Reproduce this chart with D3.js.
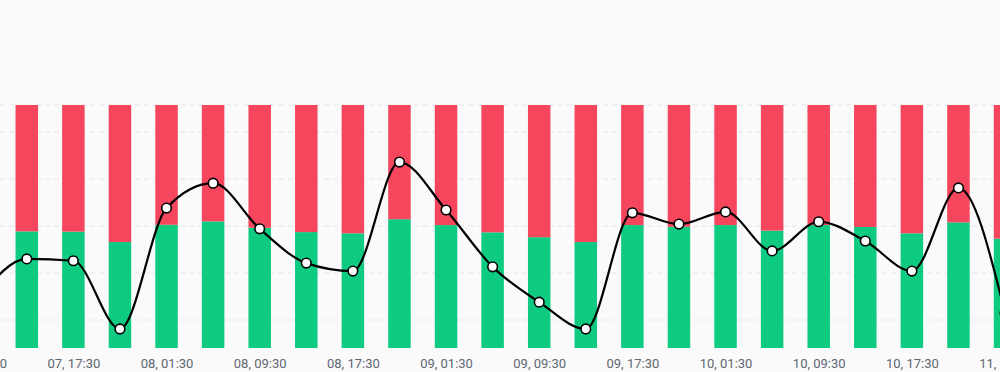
<!DOCTYPE html>
<html>
<head>
<meta charset="utf-8">
<script src="https://cdn.jsdelivr.net/npm/d3@7"></script>
<style>
  html, body { margin: 0; padding: 0; background: #fafafa; }
  svg { display: block; }
</style>
</head>
<body>
<svg id="chart" width="1000" height="372"></svg>
<script>
// every 4 hours, day 07 09:30 -> day 11 01:30
const times = [
  "07 09:30", "07 13:30", "07 17:30", "07 21:30",
  "08 01:30", "08 05:30", "08 09:30", "08 13:30", "08 17:30", "08 21:30",
  "09 01:30", "09 05:30", "09 09:30", "09 13:30", "09 17:30", "09 21:30",
  "10 01:30", "10 05:30", "10 09:30", "10 13:30", "10 17:30", "10 21:30",
  "11 01:30"
];
// long share of accounts (green), short is the rest (red)
const longShare = [
  0.460, 0.480, 0.479, 0.436, 0.507, 0.521, 0.495, 0.477, 0.472, 0.530,
  0.506, 0.476, 0.456, 0.436, 0.506, 0.499, 0.506, 0.483, 0.506, 0.498,
  0.472, 0.517, 0.450
];
// long/short ratio (black line)
const ratio = [
  0.850, 0.930, 0.926, 0.781, 1.038, 1.091, 0.994, 0.921, 0.904, 1.136,
  1.034, 0.913, 0.838, 0.781, 1.028, 1.004, 1.030, 0.947, 1.009, 0.968,
  0.904, 1.081, 0.815
];
const gridTicks = [0.8, 0.9, 1.0, 1.1, 1.2];

const parseT = s => {
  const [d, hm] = s.split(" ");
  const [h, m] = hm.split(":");
  return new Date(2024, 0, +d, +h, +m);
};

const data = times.map((t, i) => ({
  t: parseT(t),
  long: longShare[i],
  short: 1 - longShare[i],
  ratio: ratio[i]
}));

const W = 1000, H = 372;
const plotTop = 105, plotBottom = 348;

const svg = d3.select("#chart");
svg.append("rect").attr("width", W).attr("height", H).attr("fill", "#fafafa");

const x = d3.scaleTime()
  .domain([new Date(2024, 0, 7, 11, 12), new Date(2024, 0, 11, 1, 4)])
  .range([0, W]);

const yBar = d3.scaleLinear().domain([0, 1]).range([plotBottom, plotTop]);
const yLine = d3.scaleLinear().domain([0.7404, 1.2574]).range([plotBottom, plotTop]);

// grid
const grid = svg.append("g");
grid.selectAll("line.g")
  .data(gridTicks)
  .join("line")
  .attr("x1", 0).attr("x2", W)
  .attr("y1", d => yLine(d)).attr("y2", d => yLine(d))
  .attr("stroke", "#e6e6e6")
  .attr("stroke-dasharray", "5,4");
grid.append("line")
  .attr("x1", 0).attr("x2", W)
  .attr("y1", yBar(1)).attr("y2", yBar(1))
  .attr("stroke", "#e6e6e6")
  .attr("stroke-dasharray", "5,4");

// stacked bars
const barW = 22.5;
const stack = d3.stack().keys(["long", "short"])(data);
const colors = { long: "#0ecb81", short: "#f6465d" };

svg.append("g")
  .selectAll("g")
  .data(stack)
  .join("g")
  .attr("fill", d => colors[d.key])
  .selectAll("rect")
  .data(d => d)
  .join("rect")
  .attr("x", d => x(d.data.t) - barW / 2)
  .attr("width", barW)
  .attr("y", d => yBar(d[1]))
  .attr("height", d => yBar(d[0]) - yBar(d[1]));

// ratio line
const line = d3.line()
  .x(d => x(d.t))
  .y(d => yLine(d.ratio))
  .curve(d3.curveMonotoneX);

svg.append("path")
  .datum(data)
  .attr("d", line)
  .attr("fill", "none")
  .attr("stroke", "#000")
  .attr("stroke-width", 2.2);

svg.append("g")
  .selectAll("circle")
  .data(data)
  .join("circle")
  .attr("cx", d => x(d.t))
  .attr("cy", d => yLine(d.ratio))
  .attr("r", 4.8)
  .attr("fill", "#fff")
  .attr("stroke", "#000")
  .attr("stroke-width", 1.6);

// x axis labels, every 8 hours
const tickTimes = data.map(d => d.t).filter(t => t.getHours() % 8 === 1);
const xAxis = d3.axisBottom(x)
  .tickValues(tickTimes)
  .tickFormat(d3.timeFormat("%d, %H:%M"))
  .tickSize(0)
  .tickPadding(0);

const ax = svg.append("g")
  .attr("transform", `translate(0,${plotBottom})`)
  .call(xAxis);
ax.select(".domain").remove();
ax.selectAll("text")
  .attr("y", 20)
  .attr("dy", 0)
  .attr("fill", "#5e6673")
  .style("font-family", "Roboto, 'Noto Sans', sans-serif")
  .style("font-size", "13px");
</script>
</body>
</html>
